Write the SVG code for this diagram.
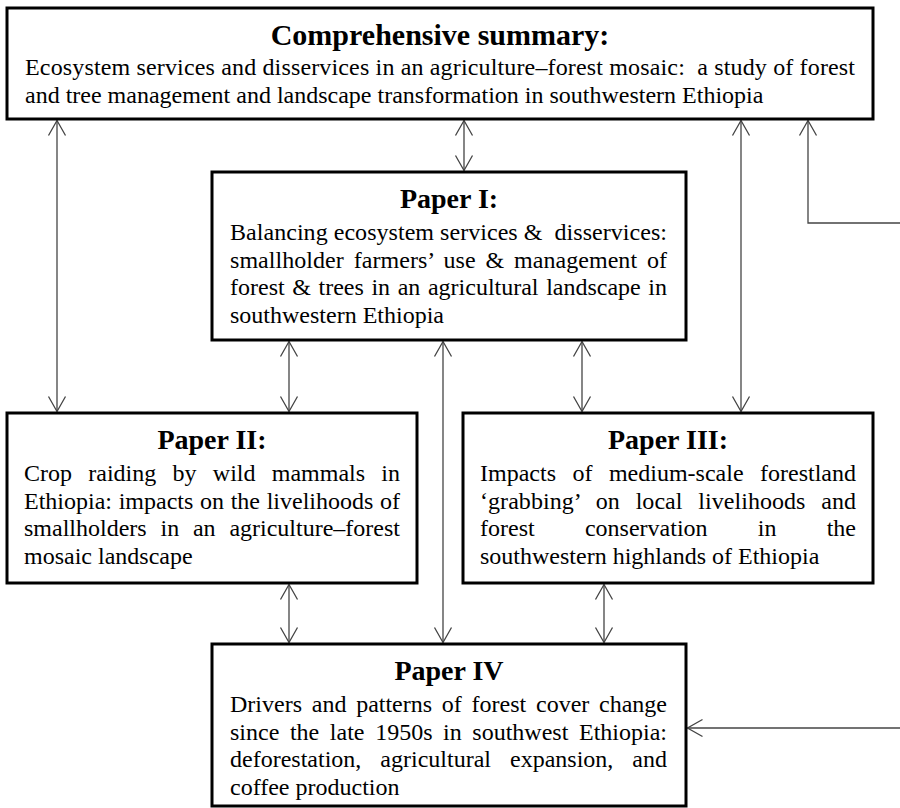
<svg xmlns="http://www.w3.org/2000/svg" width="900" height="808" viewBox="0 0 900 808">
<defs>
<style>
.box{fill:#fff;stroke:#000;stroke-width:3}
.t{font-family:"Liberation Serif","Times New Roman",serif;font-size:28px;font-weight:bold;text-anchor:middle;fill:#000}
.b{font-family:"Liberation Serif","Times New Roman",serif;font-size:24px;fill:#000}
.c{fill:none;stroke:#444;stroke-width:1.3}
</style>
<marker id="ah" markerUnits="userSpaceOnUse" markerWidth="20" markerHeight="22" viewBox="-17 -11 19 22" refX="0" refY="0" orient="auto-start-reverse">
<path d="M-15,-8.5 L0,0 L-15,8.5" fill="none" stroke="#444" stroke-width="1.3"/>
</marker>
</defs>

<g id="connectors">
<line class="c" x1="57" y1="120.5" x2="57" y2="411.5" marker-start="url(#ah)" marker-end="url(#ah)"/>
<line class="c" x1="464" y1="120.5" x2="464" y2="170.5" marker-start="url(#ah)" marker-end="url(#ah)"/>
<line class="c" x1="741" y1="120.5" x2="741" y2="411.5" marker-start="url(#ah)" marker-end="url(#ah)"/>
<path class="c" d="M900,223 H808 V120.5" marker-end="url(#ah)"/>
<line class="c" x1="289" y1="341.5" x2="289" y2="411.5" marker-start="url(#ah)" marker-end="url(#ah)"/>
<line class="c" x1="443" y1="341.5" x2="443" y2="642.5" marker-start="url(#ah)" marker-end="url(#ah)"/>
<line class="c" x1="582" y1="341.5" x2="582" y2="411.5" marker-start="url(#ah)" marker-end="url(#ah)"/>
<line class="c" x1="289" y1="584.5" x2="289" y2="642.5" marker-start="url(#ah)" marker-end="url(#ah)"/>
<line class="c" x1="604" y1="584.5" x2="604" y2="642.5" marker-start="url(#ah)" marker-end="url(#ah)"/>
<line class="c" x1="900" y1="728" x2="687.5" y2="728" marker-end="url(#ah)"/>
</g>

<g id="summary">
<rect class="box" x="7" y="8" width="866" height="111"/>
<text class="t" x="440" y="45" style="font-size:30px">Comprehensive summary:</text>
<text class="b" x="25" y="75" textLength="830" lengthAdjust="spacing" xml:space="preserve">Ecosystem services and disservices in an agriculture–forest mosaic:  a study of forest</text>
<text class="b" x="25" y="103">and tree management and landscape transformation in southwestern Ethiopia</text>
</g>

<g id="paper1">
<rect class="box" x="212" y="172" width="474" height="168"/>
<text class="t" x="449" y="208">Paper I:</text>
<text class="b" x="230" y="240" textLength="437" lengthAdjust="spacing" xml:space="preserve">Balancing ecosystem services &amp;  disservices:</text>
<text class="b" x="230" y="267.5" textLength="437" lengthAdjust="spacing" word-spacing="3.8">smallholder farmers’ use &amp; management of</text>
<text class="b" x="230" y="295" textLength="437" lengthAdjust="spacing" word-spacing="1.6">forest &amp; trees in an agricultural landscape in</text>
<text class="b" x="230" y="322.5">southwestern Ethiopia</text>
</g>

<g id="paper2">
<rect class="box" x="7" y="413" width="410" height="170"/>
<text class="t" x="212" y="449">Paper II:</text>
<text class="b" x="24" y="481" textLength="376" lengthAdjust="spacing" word-spacing="10.3">Crop raiding by wild mammals in</text>
<text class="b" x="24" y="508.5" textLength="376" lengthAdjust="spacing" word-spacing="0.7">Ethiopia: impacts on the livelihoods of</text>
<text class="b" x="24" y="536" textLength="376" lengthAdjust="spacing" word-spacing="7.8">smallholders in an agriculture–forest</text>
<text class="b" x="24" y="563.5">mosaic landscape</text>
</g>

<g id="paper3">
<rect class="box" x="463" y="413" width="410" height="170"/>
<text class="t" x="668" y="449">Paper III:</text>
<text class="b" x="480" y="481" textLength="376" lengthAdjust="spacing" word-spacing="10.5">Impacts of medium-scale forestland</text>
<text class="b" x="480" y="508.5" textLength="376" lengthAdjust="spacing" word-spacing="9.7">‘grabbing’ on local livelihoods and</text>
<text class="b" x="480" y="536" textLength="376" lengthAdjust="spacing" word-spacing="44.2">forest conservation in the</text>
<text class="b" x="480" y="563.5">southwestern highlands of Ethiopia</text>
</g>

<g id="paper4">
<rect class="box" x="212" y="644" width="474" height="162"/>
<text class="t" x="449" y="680">Paper IV</text>
<text class="b" x="230" y="712" textLength="437" lengthAdjust="spacing" word-spacing="3.75">Drivers and patterns of forest cover change</text>
<text class="b" x="230" y="739.5" textLength="437" lengthAdjust="spacing" word-spacing="4.6">since the late 1950s in southwest Ethiopia:</text>
<text class="b" x="230" y="767" textLength="437" lengthAdjust="spacing" word-spacing="13">deforestation, agricultural expansion, and</text>
<text class="b" x="230" y="794.5">coffee production</text>
</g>
</svg>
